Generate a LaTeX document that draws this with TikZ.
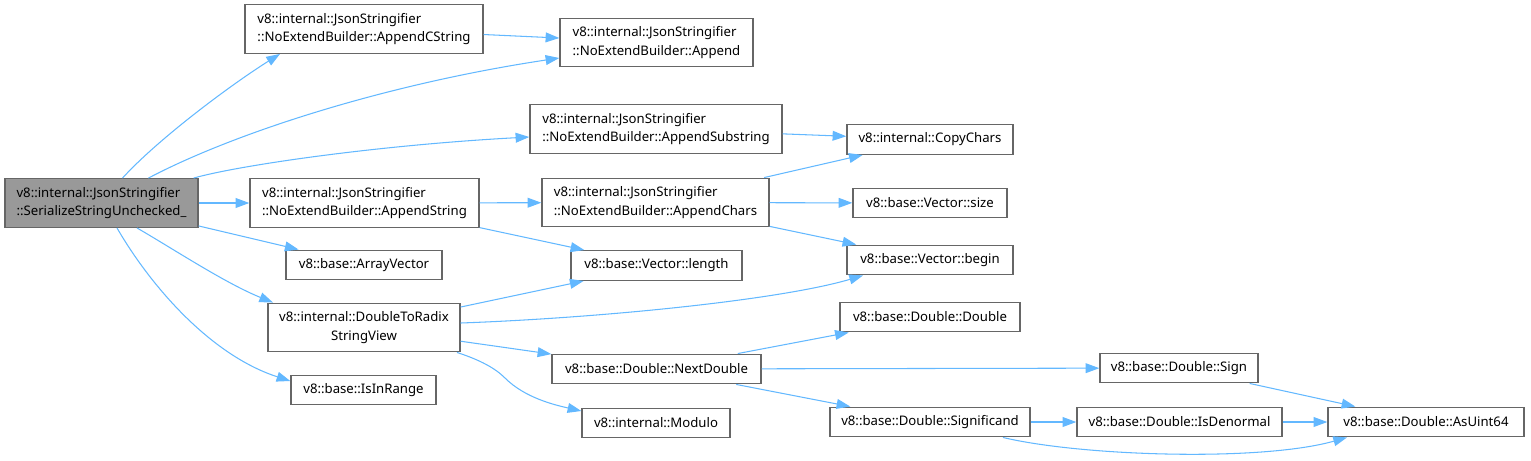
\documentclass[tikz,border=0pt]{standalone}
\usepackage{fontspec}
\setmainfont{Noto Sans}
\usepackage{xcolor}
\usepackage{tikz}
\usetikzlibrary{arrows.meta, positioning, calc}

\definecolor{edgeblue}{HTML}{63B8FF}
\definecolor{boxgray}{HTML}{666666}
\definecolor{mainfill}{HTML}{999999}

\begin{document}
\begin{tikzpicture}[
    x=0.02cm, y=-0.02cm,
    func/.style={draw=boxgray, line width=0.8pt, fill=white, inner sep=0pt, align=left, font=\fontsize{7.5}{10.7}\selectfont},
    onerow/.style={func, minimum height=0.59cm},
    tworow/.style={func, minimum height=0.97cm},
    mainfunc/.style={tworow, fill=mainfill},
    arrow/.style={-{Triangle[length=7.8pt, width=5.6pt]}, edgeblue, line width=0.6pt}
]
\useasboundingbox (0,0) rectangle (1531,460);

% Caller
\node[mainfunc, minimum width=3.86cm] (main) at (101.5,203) {v8::internal::JsonStringifier\\::SerializeStringUnchecked\_};

% First level
\node[tworow, minimum width=4.76cm] (cstr) at (364,29) {v8::internal::JsonStringifier\\::NoExtendBuilder::AppendCString};
\node[tworow, minimum width=4.58cm] (astring) at (364.5,203) {v8::internal::JsonStringifier\\::NoExtendBuilder::AppendString};
\node[onerow, minimum width=3.12cm] (arrvec) at (364,265) {v8::base::ArrayVector};
\node[tworow, minimum width=3.84cm, align=center] (radix) at (364,327.5) {v8::internal::DoubleToRadix\\StringView};
\node[onerow, minimum width=2.90cm] (inrange) at (363.5,390) {v8::base::IsInRange};

% Second level
\node[tworow, minimum width=3.86cm] (append) at (656.5,42.5) {v8::internal::JsonStringifier\\::NoExtendBuilder::Append};
\node[tworow, minimum width=5.04cm] (substr) at (656,129) {v8::internal::JsonStringifier\\::NoExtendBuilder::AppendSubstring};
\node[tworow, minimum width=4.54cm] (achars) at (655.5,202.5) {v8::internal::JsonStringifier\\::NoExtendBuilder::AppendChars};
\node[onerow, minimum width=3.42cm] (vlength) at (656.5,265.5) {v8::base::Vector::length};
\node[onerow, minimum width=4.18cm] (nextd) at (656.5,369) {v8::base::Double::NextDouble};
\node[onerow, minimum width=2.96cm] (modulo) at (656,423) {v8::internal::Modulo};

% Third level
\node[onerow, minimum width=3.32cm] (copychars) at (930,139.5) {v8::internal::CopyChars};
\node[onerow, minimum width=3.08cm] (vsize) at (930,203) {v8::base::Vector::size};
\node[onerow, minimum width=3.32cm] (vbegin) at (930,260) {v8::base::Vector::begin};
\node[onerow, minimum width=3.60cm] (ddouble) at (930,317) {v8::base::Double::Double};
\node[onerow, minimum width=4.00cm] (signif) at (930,422) {v8::base::Double::Significand};

% Last levels
\node[onerow, minimum width=3.16cm] (dsign) at (1179,368) {v8::base::Double::Sign};
\node[onerow, minimum width=4.10cm] (isdenorm) at (1179.5,422) {v8::base::Double::IsDenormal};
\node[onerow, minimum width=3.92cm] (asuint) at (1426,422) {v8::base::Double::AsUint64};

% Calls from the caller
\draw[arrow] ([xshift=0.42cm]main.north) .. controls (160,137) and (235,82) .. ([xshift=-1.68cm]cstr.south);
\draw[arrow] ([xshift=0.94cm]main.north) .. controls (230,135) and (380,85) .. ([yshift=-0.31cm]append.west);
\draw[arrow] ([xshift=-0.1cm]main.north east) .. controls (240,165) and (380,145) .. ([yshift=-0.16cm]substr.west);
\draw[arrow] (main) -- (astring);
\draw[arrow] (main) -- (arrvec);
\draw[arrow] ([xshift=0.71cm]main.south) .. controls (175,250) and (225,283) .. ([xshift=-1.82cm]radix.north);
\draw[arrow] ([xshift=0.31cm]main.south) .. controls (150,285) and (210,355) .. ([yshift=0.18cm]inrange.west);

% Builder calls
\draw[arrow] (cstr) -- (append);
\draw[arrow] (substr) -- (copychars);
\draw[arrow] (astring) -- (achars);
\draw[arrow] (astring) -- (vlength);
\draw[arrow] (achars) -- (copychars);
\draw[arrow] (achars) -- (vsize);
\draw[arrow] (achars) -- (vbegin);

% Radix calls
\draw[arrow] (radix) -- (vlength);
\draw[arrow] ([yshift=0.09cm]radix.east) .. controls (600,318) and (780,300) .. ([xshift=-1.34cm]vbegin.south);
\draw[arrow] (radix) -- (nextd);
\draw[arrow] ([xshift=1.86cm]radix.south) .. controls (480,360) and (495,368) .. (505,378) .. controls (525,398) and (555,405) .. ([yshift=0.24cm]modulo.west);

% Double calls
\draw[arrow] (nextd) -- (ddouble);
\draw[arrow] (nextd) -- (dsign);
\draw[arrow] (nextd) -- (signif);
\draw[arrow] (dsign) -- (asuint);
\draw[arrow] (signif) -- (isdenorm);
\draw[arrow] (isdenorm) -- (asuint);
\draw[arrow] ([xshift=1.46cm]signif.south) .. controls (1080,456) and (1260,462) .. ([xshift=-1.58cm]asuint.south);

\end{tikzpicture}
\end{document}
